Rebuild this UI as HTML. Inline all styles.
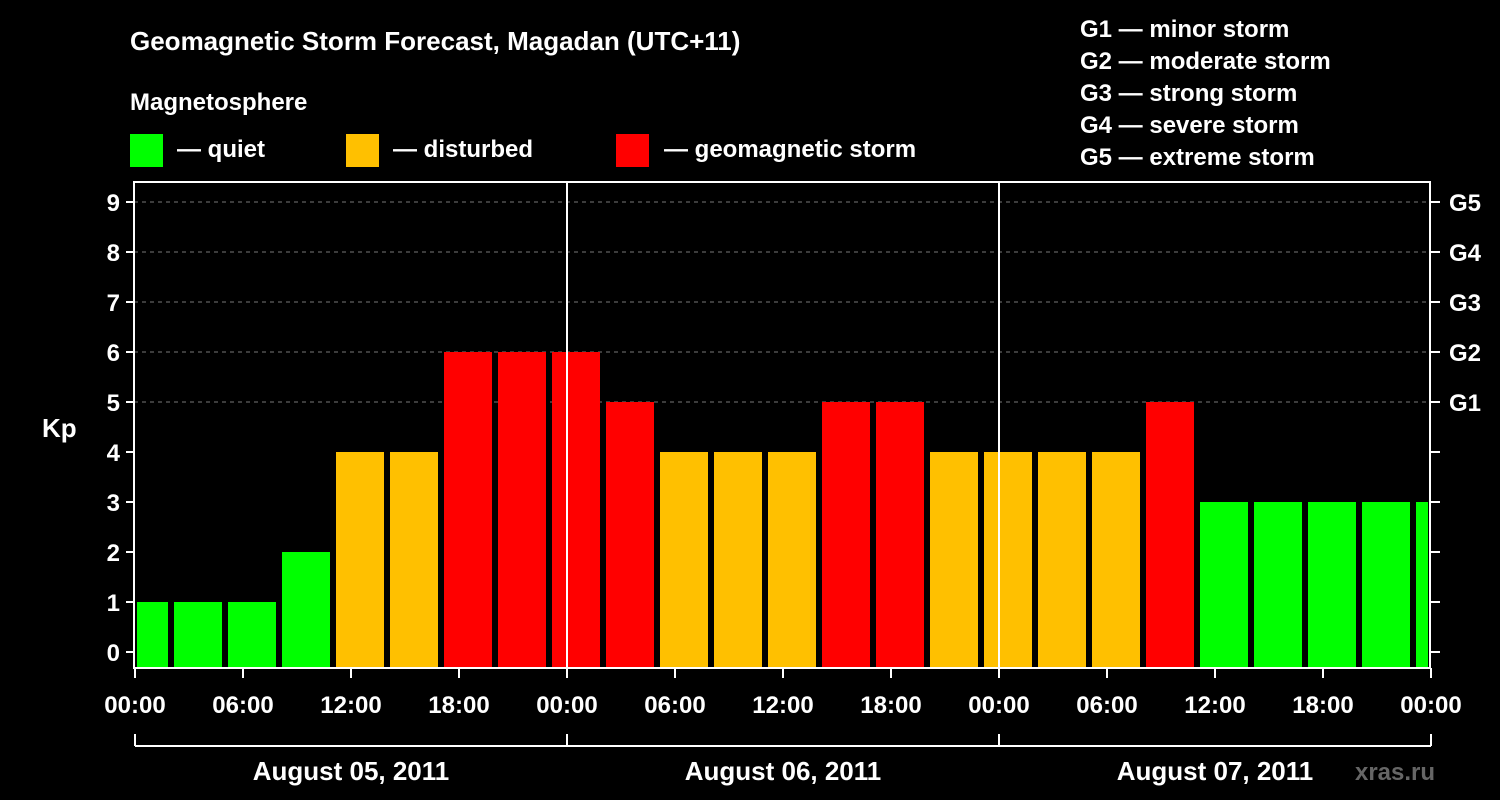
<!DOCTYPE html>
<html><head><meta charset="utf-8">
<style>
html,body{margin:0;padding:0;background:#000;}
svg{display:block;font-family:"Liberation Sans",Arial,sans-serif;font-weight:bold;}
</style></head>
<body>
<svg id="chart" width="1500" height="800" viewBox="0 0 1500 800">
  <rect x="0" y="0" width="1500" height="800" fill="#000"/>
  <text x="130" y="50" fill="#fff" font-size="26">Geomagnetic Storm Forecast, Magadan (UTC+11)</text>
  <text x="130" y="110" fill="#fff" font-size="24">Magnetosphere</text>
  <g>
    <rect x="130" y="134" width="33" height="33" fill="#00ff00"/>
    <text x="177" y="157" fill="#fff" font-size="24">— quiet</text>
  </g>
  <g>
    <rect x="346" y="134" width="33" height="33" fill="#ffc000"/>
    <text x="393" y="157" fill="#fff" font-size="24">— disturbed</text>
  </g>
  <g>
    <rect x="616" y="134" width="33" height="33" fill="#ff0000"/>
    <text x="664" y="157" fill="#fff" font-size="24">— geomagnetic storm</text>
  </g>
  <g font-size="24" fill="#fff">
    <text x="1080" y="37">G1 — minor storm</text>
    <text x="1080" y="69">G2 — moderate storm</text>
    <text x="1080" y="101">G3 — strong storm</text>
    <text x="1080" y="133">G4 — severe storm</text>
    <text x="1080" y="165">G5 — extreme storm</text>
  </g>
  <text x="42" y="437" fill="#fff" font-size="26">Kp</text>
  <g id="grid"></g>
  <g id="bars"></g>
  <g id="axes"></g>
  <text x="1395" y="780" fill="#666" font-size="24" text-anchor="middle">xras.ru</text>
</svg>
<script>
const kpValues = [1,1,1,2,4,4,6,6,6,5,4,4,4,5,5,4,4,4,4,5,3,3,3,3,3];
const yTicks = [0,1,2,3,4,5,6,7,8,9];
const gLabels = ["G1","G2","G3","G4","G5"];
const gLevels = [5,6,7,8,9];
const xTickLabels = ["00:00","06:00","12:00","18:00","00:00","06:00","12:00","18:00","00:00","06:00","12:00","18:00","00:00"];
const dayLabels = ["August 05, 2011","August 06, 2011","August 07, 2011"];
const binHours = 3;
const firstBinStartHour = -1;

const NS="http://www.w3.org/2000/svg";
const X0=135, PX_PER_HOUR=18, Y0=652, PX_PER_KP=50;
const PLOT_L=134, PLOT_R=1430, PLOT_T=182, PLOT_B=668;
const xScale=h=>X0+h*PX_PER_HOUR;
const yScale=v=>Y0-v*PX_PER_KP;
function mk(tag,attrs,parent){const e=document.createElementNS(NS,tag);for(const k in attrs)e.setAttribute(k,attrs[k]);parent.appendChild(e);return e;}
const grid=document.getElementById('grid'),bars=document.getElementById('bars'),axes=document.getElementById('axes');
function color(v){return v>=5?"#ff0000":(v>=4?"#ffc000":"#00ff00");}

gLevels.forEach(v=>{
  const l=mk('line',{x1:PLOT_L,x2:PLOT_R,y1:yScale(v),y2:yScale(v),stroke:'#777','stroke-dasharray':'4,4','stroke-width':1},grid);
  
  
});

kpValues.forEach((v,i)=>{
  let s=firstBinStartHour+i*binHours, e=s+binHours;
  let x1=xScale(s)+3, x2=xScale(e)-3;
  x1=Math.max(x1,PLOT_L+3); x2=Math.min(x2,PLOT_R-2);
  if(x2<=x1) return;
  const r=mk('rect',{x:x1,y:yScale(v),width:x2-x1,height:PLOT_B-yScale(v),fill:color(v)},bars);
  
  
});

const frame=mk('rect',{x:PLOT_L,y:PLOT_T,width:PLOT_R-PLOT_L,height:PLOT_B-PLOT_T,fill:'none',stroke:'#fff','stroke-width':2},axes);


[1,2].forEach(d=>{
  const l=mk('line',{x1:xScale(24*d),x2:xScale(24*d),y1:PLOT_T,y2:PLOT_B,stroke:'#fff','stroke-width':2},axes);
  
  
});
yTicks.forEach(v=>{
  const y=yScale(v);
  const t=mk('line',{x1:PLOT_L-8,x2:PLOT_L,y1:y,y2:y,stroke:'#fff','stroke-width':2},axes);
  
  
  const tr=mk('line',{x1:PLOT_R,x2:PLOT_R+10,y1:y,y2:y,stroke:'#fff','stroke-width':2},axes);
  
  
  const tx=mk('text',{x:PLOT_L-14,y:y+9,fill:'#fff','font-size':24,'text-anchor':'end'},axes);
  tx.textContent=v;
  
  
});
gLabels.forEach((g,i)=>{
  const tx=mk('text',{x:1449,y:yScale(gLevels[i])+9,fill:'#fff','font-size':24},axes);
  tx.textContent=g;
  
  
});
xTickLabels.forEach((lab,i)=>{
  const x=xScale(i*6);
  const t=mk('line',{x1:x,x2:x,y1:PLOT_B,y2:PLOT_B+10,stroke:'#fff','stroke-width':2},axes);
  
  
  const tx=mk('text',{x:x,y:713,fill:'#fff','font-size':24,'text-anchor':'middle'},axes);
  tx.textContent=lab;
  
  
});
const br=mk('line',{x1:xScale(0),x2:xScale(72),y1:746,y2:746,stroke:'#fff','stroke-width':2},axes);


[0,1,2,3].forEach(d=>{
  const t=mk('line',{x1:xScale(24*d),x2:xScale(24*d),y1:734,y2:746,stroke:'#fff','stroke-width':2},axes);
  
  
});
dayLabels.forEach((lab,i)=>{
  const tx=mk('text',{x:xScale(24*i+12),y:780,fill:'#fff','font-size':26,'text-anchor':'middle'},axes);
  tx.textContent=lab;
  
  
});
</script>
</body></html>
